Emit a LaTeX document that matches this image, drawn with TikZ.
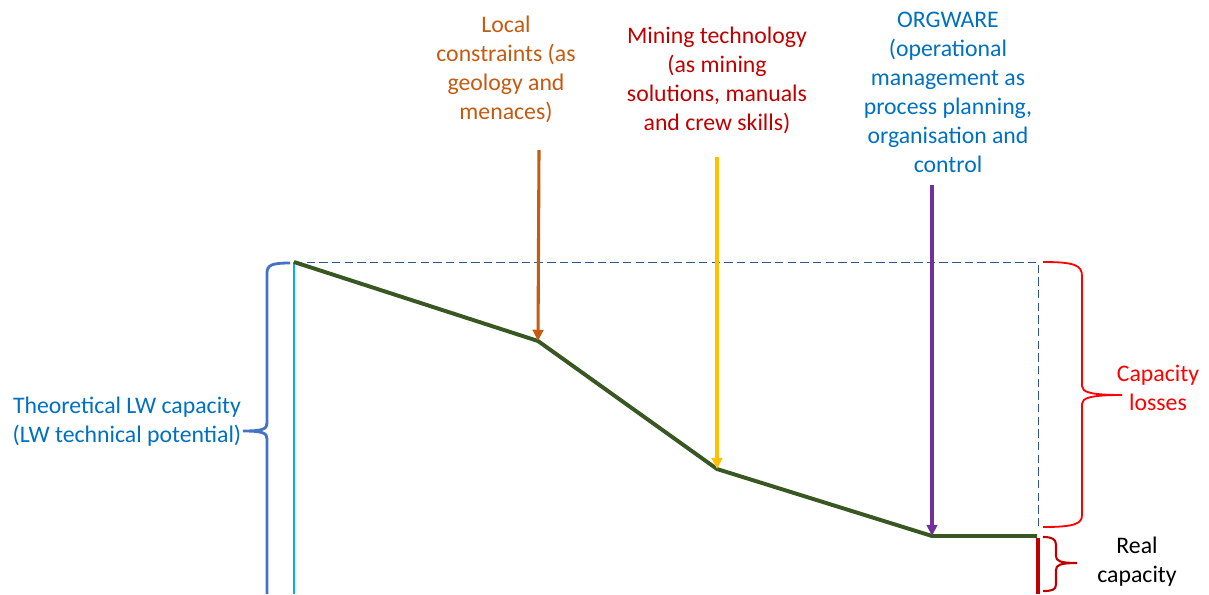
\documentclass[tikz,border=0pt]{standalone}
\usepackage{fontspec}
\setmainfont{Carlito}
\usetikzlibrary{arrows.meta}
\definecolor{lwgreen}{HTML}{385723}
\definecolor{lworange}{HTML}{C55A11}
\definecolor{lwyellow}{HTML}{FFC000}
\definecolor{lwpurple}{HTML}{7030A0}
\definecolor{lwcyan}{HTML}{00B0F0}
\definecolor{lwbrace}{HTML}{4472C4}
\definecolor{lwdash}{HTML}{2F5597}
\definecolor{lwtext}{HTML}{0070C0}
\definecolor{lwdarkred}{HTML}{C00000}
\definecolor{lwred}{HTML}{FF0000}
\begin{document}
\begin{tikzpicture}[x=0.025cm, y=-0.025cm, font=\fontsize{16.9}{20.6}\selectfont,
    drop/.style={line width=2.2pt, -{Triangle[length=8pt,width=7.5pt]}},
    lbl/.style={align=center, inner sep=0pt}]
    \useasboundingbox (0,0) rectangle (1209,594);
    % capacity curve points
    \coordinate (p0) at (294,262); \coordinate (p1) at (538,341); \coordinate (p2) at (717,469);
    \coordinate (p3) at (932,536); \coordinate (p4) at (1037,536);
    \coordinate (tr) at (1038,262); \coordinate (br) at (1038,530);
    \coordinate (c0) at (294,594); \coordinate (r0) at (1038,538); \coordinate (r1) at (1038,594);
    % arrow tails
    \coordinate (t1) at (539,150); \coordinate (t2) at (717,157); \coordinate (t3) at (932,185);
    % labels
    \node[lbl, text=lworange] (local) at (506,69) {Local\\constraints (as\\geology and\\menaces)};
    \node[lbl, text=lwdarkred] (mining) at (717,80) {Mining technology\\(as mining\\solutions, manuals\\and crew skills)};
    \node[lbl, text=lwtext] (orgware) at (948,92) {ORGWARE\\(operational\\management as\\process planning,\\organisation and\\control};
    \node[lbl, text=lwtext] (theo) at (127,422) {Theoretical LW capacity\\(LW technical potential)};
    \node[lbl, text=lwred] (losses) at (1158,388) {Capacity\\losses};
    \node[lbl] (real) at (1137,562) {Real\\capacity};
    % reference lines
    \draw[lwdash, line width=0.6pt, dash pattern=on 6pt off 3pt] (p0) -- (tr) -- (br);
    \draw[lwcyan, line width=1.5pt] (p0) -- (c0);
    \draw[lwdarkred, line width=2.4pt] (r0) -- (r1);
    % braces
    \draw[lwbrace, line width=2pt] (290,263) .. controls (272,263) and (267,265) .. (267,273) -- (267,423)
        .. controls (267,429) and (263,431) .. (243,431) .. controls (263,431) and (267,433) .. (267,439) -- (267,594);
    \draw[lwred, line width=1.3pt] (1043,262) .. controls (1074,262) and (1082,265) .. (1082,276) -- (1082,386)
        .. controls (1082,392) and (1090,395) .. (1122,395) .. controls (1090,395) and (1082,398) .. (1082,404)
        -- (1082,515) .. controls (1082,524) and (1074,527) .. (1043,527);
    \draw[lwdarkred, line width=1.5pt] (1043,537) .. controls (1052,537) and (1056,539) .. (1056,545) -- (1056,556)
        .. controls (1056,561) and (1060,563) .. (1077,563) .. controls (1060,563) and (1056,565) .. (1056,570)
        -- (1056,584) .. controls (1056,590) and (1052,591) .. (1043,591);
    % curve
    \draw[lwgreen, line width=2.8pt, line join=round] (p0) -- (p1) -- (p2) -- (p3) -- (p4);
    % influences
    \draw[drop, lworange] (t1) -- (p1);
    \draw[drop, lwyellow] (t2) -- (p2);
    \draw[drop, lwpurple] (t3) -- (p3);
\end{tikzpicture}
\end{document}
